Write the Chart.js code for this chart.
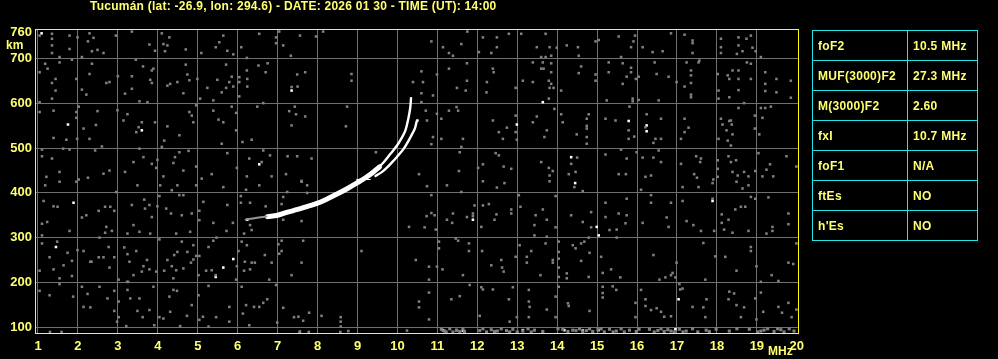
<!DOCTYPE html>
<html>
<head>
<meta charset="utf-8">
<script src="https://cdn.jsdelivr.net/npm/chart.js@4.4.0/dist/chart.umd.min.js"></script>
<style>
  body { margin: 0; background: #000; }
  #marco { position: relative; width: 998px; height: 359px; background: #000; overflow: hidden; }
  #ionograma { position: absolute; left: 0; top: 0; }
  .amarillo { position: absolute; color: #ffff70; font: bold 12px "Liberation Sans", Arial, sans-serif; white-space: nowrap; }
  #titulo { left: 90px; top: 0px; line-height: 13px; letter-spacing: 0.25px; }
  #km { left: 6px; top: 38px; font-size: 12px; }
  #mhz { left: 768px; top: 344px; font-size: 12px; }
  #tabla { position: absolute; left: 812px; top: 30px; border-collapse: collapse; }
  #tabla td { border: 1px solid #1ee6e6; height: 29px; padding: 0 0 0 5px; color: #ffff70;
              font: bold 12px "Liberation Sans", Arial, sans-serif; letter-spacing: 0.3px; white-space: nowrap; }
  #tabla td.par { width: 89px; }
  #tabla td.val { width: 64px; }
</style>
</head>
<body>
<div id="marco">
  <canvas id="ionograma" width="998" height="359"></canvas>
  <div id="titulo" class="amarillo">Tucumán (lat: -26.9, lon: 294.6) - DATE: 2026 01 30 - TIME (UT): 14:00</div>
  <div id="km" class="amarillo">km</div>
  <div id="mhz" class="amarillo">MHz</div>
  <table id="tabla"></table>
</div>
<script>
// ejes
const ticksFrecuencia = [1,2,3,4,5,6,7,8,9,10,11,12,13,14,15,16,17,18,19,20];
const ticksAltura = [100,200,300,400,500,600,700,760];

// parametros de la tabla
const parametros = ["foF2", "MUF(3000)F2", "M(3000)F2", "fxI", "foF1", "ftEs", "h'Es"];
const valores = ["10.5 MHz", "27.3 MHz", "2.60", "10.7 MHz", "N/A", "NO", "NO"];

// traza F2 [MHz, km]
const trazaCola = [[6.2,340],[6.45,344],[6.72,347]];
const trazaPrincipal = [[6.75,347],[7.0,350],[7.25,357],[7.5,363],[7.75,370],[8.0,377],[8.25,387],[8.5,398],[8.75,410],[9.0,423],[9.2,434],[9.4,447],[9.55,458]];
const trazaOrdinaria = [[9.35,442],[9.5,455],[9.65,468],[9.82,487],[9.99,506],[10.1,522],[10.2,540],[10.27,565],[10.32,590],[10.34,612]];
const trazaExtraordinaria = [[9.45,438],[9.6,446],[9.73,456],[9.88,470],[9.98,480],[10.15,498],[10.28,517],[10.37,532],[10.44,545],[10.48,560]];
const trazaCorta = [[8.98,430],[9.32,430]];

// ruido gris [MHz, km]
const ruido = [
  [1.04,752],[1.35,756],[1.35,745],[1.35,730],[1.35,713],[1.54,704],[1.79,752],[1.79,722],[1.99,748],[2.10,704],[2.29,757],[2.39,747],[2.25,739],[2.35,717],[2.49,720],[2.64,713],[2.95,752],[3.35,761],[3.79,732],[3.93,718],[4.10,757],[4.14,733],[4.29,748],[4.24,730],[4.18,717],[4.70,721],[5.09,713],[5.45,726],[5.54,737],[5.64,752],[5.74,718],[5.89,710],[6.09,726],[6.23,702],[6.54,756],[6.96,748],[6.96,735],[7.04,761],[7.14,730],[7.33,707],[7.56,752],[7.96,750],[8.14,761],
  [1.18,689],[1.24,678],[1.54,692],[1.44,655],[1.04,670],[1.35,646],[1.44,629],[1.35,611],[1.04,603],[1.85,698],[1.96,655],[2.10,631],[2.21,620],[2.29,666],[2.35,689],[2.71,646],[2.79,648],[3.00,661],[3.18,622],[3.35,661],[3.35,633],[3.45,698],[3.63,683],[3.85,674],[3.89,678],[3.81,653],[3.85,646],[3.54,605],[3.74,603],[4.24,640],[4.31,644],[4.49,648],[4.64,623],[4.70,687],[4.74,665],[4.79,652],[4.99,655],[5.06,611],[5.24,635],[5.39,607],[5.49,653],[5.60,625],[5.71,687],[5.71,635],[5.79,648],[5.85,660],[5.89,638],[6.04,659],[6.04,648],[6.23,674],[6.24,655],[6.24,638],[6.04,616],[6.52,685],[6.75,690],[6.70,670],[7.35,637],[7.50,638],[7.49,665],[7.69,670],[8.85,666],[8.85,651],[10.39,648],
  [1.04,581],[1.39,584],[1.96,581],[1.96,568],[2.02,593],[2.49,583],[2.99,585],[3.14,562],[3.24,576],[1.39,523],[1.71,519],[1.98,521],[2.14,544],[2.29,521],[2.45,552],[3.60,558],[3.52,547],[3.46,536],[3.93,558],[4.24,549],[4.54,529],[4.16,517],[4.79,581],[4.85,573],[4.89,558],[4.96,596],[5.39,584],[5.52,564],[5.64,558],[5.85,593],[5.96,579],[5.96,540],[5.60,510],[6.12,514],[6.35,519],[6.49,593],[6.64,601],[7.29,583],[7.43,593],[7.46,576],[7.69,571],[7.35,551],[8.71,549],[8.74,593],
  [1.10,497],[1.10,482],[1.35,477],[1.54,447],[1.21,436],[1.63,499],[1.79,497],[2.02,430],[2.25,434],[2.43,495],[2.60,504],[2.64,443],[2.79,450],[3.18,447],[3.39,469],[3.54,499],[3.64,480],[3.85,465],[3.96,456],[3.99,474],[4.10,503],[4.14,437],[4.39,467],[4.43,480],[4.54,491],[4.64,450],[4.77,494],[4.96,459],[5.10,432],[5.35,442],[5.74,489],[5.98,456],[6.23,437],[6.29,477],[6.60,469],[6.64,495],[6.81,484],[6.85,437],[7.21,442],[7.25,482],[7.49,482],[7.85,477],[7.60,427],[9.46,491],
  [10.85,739],[11.14,726],[11.29,713],[11.39,707],[11.60,733],[11.75,761],[12.04,715],[12.14,748],[12.35,713],[12.49,748],[12.49,726],[12.79,756],[13.10,756],[13.49,726],[13.60,704],[13.71,704],[13.71,756],[13.81,726],[13.85,707],[13.99,725],[14.24,730],[14.52,726],[14.54,707],[14.96,739],[15.04,742],[15.54,750],[15.60,704],[15.85,726],[15.91,739],[15.95,752],[16.14,726],[16.39,715],[16.64,717],[16.85,757],[17.19,754],[17.39,741],[17.39,735],[17.39,713],[17.56,696],[18.10,745],[18.10,726],[18.10,713],[18.54,748],[18.54,730],[18.64,717],[18.74,745],[18.85,752],[18.89,725],[18.97,717],[19.10,704],[18.50,711],
  [10.60,672],[10.64,648],[10.60,623],[10.89,618],[10.99,665],[10.60,603],[11.29,678],[11.49,635],[11.71,629],[11.74,690],[11.74,651],[12.23,625],[12.24,648],[12.39,678],[12.41,670],[12.96,635],[13.14,651],[13.39,648],[13.39,692],[13.60,678],[13.66,678],[13.64,692],[13.85,690],[13.85,670],[13.79,651],[13.85,644],[13.81,635],[13.91,635],[13.79,611],[14.10,629],[14.60,683],[14.54,668],[14.96,665],[14.96,651],[15.29,692],[15.29,670],[15.64,690],[15.64,644],[15.74,660],[15.85,680],[15.85,670],[15.97,655],[16.04,660],[15.89,611],[15.89,605],[16.04,608],[15.24,607],[16.44,692],[16.49,666],[16.54,607],[16.79,660],[16.99,648],[17.19,638],[17.24,692],[17.35,674],[17.35,663],[17.35,646],[17.35,620],[17.35,614],[17.54,692],[18.02,666],[18.04,629],[18.04,611],[18.27,663],[18.31,655],[18.31,614],[18.39,674],[18.54,674],[18.54,655],[18.54,630],[18.75,692],[18.85,689],[18.85,655],[19.21,670],[19.21,644],[19.21,628],[19.49,655],[19.49,625],[19.85,651],[19.85,613],
  [10.71,584],[10.74,562],[10.99,577],[11.10,566],[10.89,525],[11.10,521],[10.85,509],[11.29,584],[11.48,592],[11.52,584],[11.64,521],[11.60,503],[12.39,562],[12.54,536],[12.64,521],[12.74,546],[12.96,573],[12.96,536],[12.99,519],[13.39,558],[13.49,571],[13.74,540],[13.68,525],[13.93,588],[14.10,576],[14.14,558],[14.49,531],[14.74,566],[14.74,550],[14.74,544],[14.74,525],[14.74,510],[14.79,576],[15.21,566],[15.46,562],[15.79,540],[15.79,521],[15.93,526],[15.81,593],[16.24,576],[16.21,547],[16.41,512],[16.46,521],[16.60,521],[16.60,566],[17.10,521],[17.19,566],[17.19,536],[17.29,546],[18.10,566],[18.14,553],[18.24,540],[18.31,561],[18.35,562],[18.37,553],[18.39,531],[18.27,517],[18.35,506],[18.04,521],[18.54,590],[18.68,601],[18.95,573],[18.95,544],[19.06,531],[19.10,590],[19.21,590],[19.14,568],[19.35,593],
  [10.54,442],[11.54,449],[11.56,491],[12.02,456],[12.14,464],[12.46,489],[12.54,484],[12.66,459],[12.85,454],[13.60,469],[13.79,456],[13.81,439],[13.89,449],[14.35,465],[14.50,479],[14.29,442],[14.46,447],[15.21,486],[15.54,442],[15.60,497],[15.74,477],[15.72,442],[15.99,491],[16.14,479],[16.21,436],[16.35,439],[16.41,479],[16.54,495],[16.60,469],[17.10,465],[17.48,482],[17.58,469],[17.60,477],[17.43,442],[17.50,434],[17.91,430],[18.02,473],[18.02,454],[18.02,436],[18.29,482],[18.35,469],[18.48,473],[18.39,447],[18.52,439],[18.68,447],[18.79,437],[18.96,449],[19.04,489],[19.14,437],[19.24,452],[19.33,464],[19.41,437],[19.74,482],[19.99,459],
  [1.18,417],[1.54,425],[1.96,425],[2.96,402],[3.49,417],[4.06,417],[4.35,406],[4.49,417],[4.96,417],[5.64,413],[6.21,407],[6.54,417],[7.24,402],[7.60,425],[7.74,417],[7.74,400],
  [1.14,382],[1.39,370],[1.49,369],[1.23,335],[1.10,331],[1.10,305],[1.79,315],[2.10,345],[2.21,350],[2.52,360],[2.68,369],[2.81,369],[2.91,360],[2.71,324],[2.68,311],[2.85,315],[2.54,300],[3.24,309],[3.39,328],[3.35,373],[3.54,313],[3.66,385],[3.68,365],[3.79,373],[3.81,309],[3.85,346],[3.99,370],[4.04,393],[4.21,365],[4.33,354],[4.46,309],[4.60,350],[4.54,395],[4.64,395],[4.85,354],[4.81,313],[5.04,360],[5.04,339],[5.14,380],[5.39,333],[5.74,373],[5.72,315],[5.88,333],[6.08,393],[6.08,378],[6.16,309],[6.31,378],[6.31,328],[6.35,317],[6.70,370],[7.10,375],[7.14,391],[7.14,340],[7.60,337],
  [1.10,287],[1.48,291],[1.29,256],[1.64,238],[1.74,266],[1.85,248],[1.85,214],[1.54,209],[1.39,229],[1.04,226],[1.99,272],[2.14,270],[2.31,246],[2.34,246],[2.52,256],[2.64,256],[2.77,279],[2.91,256],[2.79,233],[3.02,206],[3.16,278],[3.24,263],[3.23,201],[3.26,201],[3.29,246],[3.39,216],[3.46,270],[3.60,224],[3.64,236],[3.73,250],[3.79,229],[3.96,224],[4.04,296],[4.16,226],[4.24,250],[4.35,236],[4.39,209],[4.41,261],[4.46,227],[4.49,268],[4.60,291],[4.64,231],[4.74,268],[4.83,244],[4.89,251],[4.96,259],[5.04,259],[5.02,216],[4.89,283],[5.21,226],[5.27,279],[5.39,293],[5.35,227],[5.47,300],[5.45,216],[5.96,206],[5.98,236],[6.02,270],[6.10,291],[6.16,226],[6.18,246],[6.23,283],[6.35,244],[6.43,244],[6.31,229],[6.68,261],[6.79,206],[6.85,244],[7.02,285],[7.04,264],[7.10,270],[7.10,293],[7.35,216],[7.60,244],[7.64,293],[9.10,270],[10.29,324],[10.46,250],
  [1.04,181],[1.29,171],[1.54,196],[1.88,168],[2.10,190],[2.24,174],[2.14,145],[2.31,144],[2.54,190],[2.74,164],[2.91,181],[3.02,157],[2.91,136],[3.02,122],[2.98,112],[3.21,102],[3.24,183],[3.31,164],[3.54,164],[3.49,136],[3.62,122],[3.79,138],[3.89,190],[3.91,104],[4.04,122],[4.14,119],[4.29,168],[4.31,134],[4.39,183],[4.48,181],[4.56,102],[4.73,125],[4.85,149],[5.02,171],[5.04,116],[5.13,123],[5.27,192],[5.27,101],[5.46,122],[5.79,145],[5.79,112],[6.10,190],[6.13,130],[6.21,149],[6.29,104],[6.41,145],[6.54,145],[6.64,154],[6.74,162],[6.96,194],[6.99,110],[7.14,143],[7.41,122],[7.52,123],[7.64,114],[7.79,132],[8.10,125],[8.58,122],[8.58,112],[8.58,101],
  [10.74,415],[11.24,417],[11.60,402],[12.14,426],[12.49,412],[12.68,422],[13.81,426],[14.43,413],[14.64,404],[16.10,407],[17.14,413],[17.54,413],[17.89,422],[18.49,425],[18.64,410],[18.79,417],
  [10.85,395],[10.85,355],[10.73,348],[10.93,350],[10.68,323],[10.96,318],[11.24,340],[11.39,354],[11.37,333],[11.74,346],[11.89,354],[11.89,348],[11.93,372],[12.14,372],[12.29,375],[12.10,324],[12.43,340],[12.48,352],[12.85,363],[12.85,354],[13.04,395],[13.08,369],[13.46,350],[13.43,328],[13.64,363],[13.74,340],[13.96,393],[13.96,323],[13.43,305],[13.74,302],[14.35,350],[14.64,335],[14.85,357],[14.85,323],[15.21,378],[15.21,346],[15.31,317],[15.49,318],[15.49,300],[15.54,354],[15.71,332],[15.74,350],[15.74,387],[16.14,333],[16.35,395],[16.35,378],[16.74,345],[16.79,324],[16.85,378],[17.14,382],[17.24,337],[17.41,328],[17.60,315],[17.89,387],[17.93,315],[18.12,352],[18.12,333],[18.18,318],[18.29,340],[18.39,311],[18.46,363],[18.60,369],[18.71,369],[18.79,315],[18.85,391],[18.96,387],[19.29,390],[19.24,309],[19.39,324],[19.39,315],[19.79,354],[19.79,330],
  [11.04,291],[11.04,276],[10.79,235],[11.13,229],[10.79,206],[10.99,235],[11.46,298],[11.52,293],[11.79,287],[11.79,270],[11.64,216],[12.12,270],[12.35,238],[12.60,250],[12.62,233],[12.66,224],[12.96,257],[13.06,283],[13.24,257],[13.24,244],[13.35,270],[13.58,216],[13.71,287],[13.89,250],[13.89,244],[14.04,291],[14.04,268],[14.04,253],[14.04,233],[14.04,212],[14.24,220],[14.24,209],[14.39,283],[14.46,276],[14.60,287],[14.60,248],[14.68,291],[14.79,300],[14.81,266],[14.79,212],[15.10,257],[15.14,221],[15.35,229],[15.58,211],[16.41,261],[16.56,206],[16.71,211],[16.85,216],[16.89,221],[16.96,211],[16.99,244],[17.66,288],[17.71,206],[17.96,258],[18.21,257],[18.49,226],[18.85,279],[18.85,270],[18.99,236],[19.10,201],[19.37,216],[19.54,203],[19.79,244],[19.91,241],[19.99,287],
  [10.54,157],[10.54,144],[10.79,177],[10.79,117],[11.35,162],[11.56,169],[11.81,194],[12.10,189],[12.14,184],[12.39,184],[12.06,125],[12.79,162],[12.89,189],[12.99,122],[12.81,112],[13.29,183],[13.29,157],[13.29,122],[13.31,145],[13.74,139],[13.96,168],[13.96,122],[14.04,190],[14.27,153],[14.29,147],[14.81,136],[15.14,190],[15.14,176],[15.14,166],[15.39,191],[15.48,183],[15.96,154],[15.96,122],[16.10,183],[16.21,162],[16.21,147],[16.35,138],[16.49,142],[16.60,134],[16.68,123],[16.85,124],[17.06,196],[17.08,184],[17.14,186],[17.39,145],[17.66,144],[17.74,162],[17.71,122],[18.31,179],[18.29,162],[18.43,175],[18.49,149],[18.60,122],[18.68,144],[18.96,164],[18.99,117],[19.10,177],[19.16,134],[19.54,145],[19.63,132],[19.79,154],[19.87,122],[19.99,139],
  [1.30,89],[1.59,89],[7.55,89],[7.78,89],[8.57,89],[8.77,91],[7.56,90],[10.24,92]
];

// banda de interferencia cerca de 90 km [MHz, km]
const banda = [
  [11.10,95],[11.18,91],[11.31,96],[11.39,89],[11.48,93],[11.64,96],[11.68,90],[12.06,92],[12.14,96],[12.23,89],[12.35,94],[12.43,90],
  [12.60,96],[12.73,92],[12.81,89],[12.89,95],[13.14,91],[13.27,96],[13.35,89],[13.43,93],[13.64,90],[14.14,95],[14.27,90],[14.39,93],
  [14.56,96],[14.64,89],[14.73,92],[14.81,96],[14.89,90],[15.02,94],[15.18,89],[15.31,95],[15.48,91],[15.60,96],[15.68,89],[15.81,93],
  [15.98,90],[16.31,95],[16.43,89],[16.52,92],[16.60,96],[16.68,90],[16.77,94],[16.93,89],[17.06,95],[17.23,91],[17.39,96],[17.52,89],
  [17.73,93],[17.81,90],[17.98,95],[18.31,91],[18.81,95],[19.02,89],[19.18,93],[19.27,96],[19.43,90],[19.60,94],[19.68,89],[19.81,96],[19.93,91],
  [11.22,89],[11.56,90],[12.50,91],[13.00,89],[14.02,96],[14.47,92],[15.10,96],[15.40,89],[16.05,95],[16.85,91],[17.15,89],[18.50,96],[19.10,91],[19.52,96]
];

// puntos blancos sueltos [MHz, km]
const puntosBlancos = [
  [1.09,757],[7.35,629],[1.75,553],[3.60,540],[6.54,464],[13.64,603],[10.50,562],[12.99,553],[15.79,561],[16.24,551],[16.24,538],
  [14.35,480],[1.89,378],[1.45,279],[5.45,212],[5.64,233],[5.89,252],[6.24,340],[14.45,422],[11.89,340],[14.99,324],[15.04,305],
  [17.89,382],[17.04,162],[11.14,93],[11.48,93],[11.64,92],[13.14,93],[14.18,93],[14.64,92],[15.04,93],[16.96,95]
];

const AMARILLO = '#ffff00';
const TEXTO = '#ffff70';
const GRIS_REJILLA = 'rgb(112,112,112)';
const GRIS_RUIDO = 'rgb(128,128,128)';

const aPuntos = arr => arr.map(p => ({x: p[0], y: p[1]}));

// tabla de parametros
const tabla = document.getElementById('tabla');
for (let i = 0; i < parametros.length; i++) {
    let fila = tabla.insertRow();
    let c1 = fila.insertCell(); c1.className = 'par'; c1.textContent = parametros[i];
    let c2 = fila.insertCell(); c2.className = 'val'; c2.textContent = valores[i];
}

// marco amarillo alrededor del area
const marcoPlugin = {
    id: 'marcoAmarillo',
    afterDraw(chart) {
        const a = chart.chartArea;
        const ctx = chart.ctx;
        ctx.save();
        ctx.strokeStyle = AMARILLO;
        ctx.lineWidth = 1;
        ctx.strokeRect(Math.round(a.left) - 0.5, Math.round(a.top) - 0.5, Math.round(a.right - a.left) + 1, Math.round(a.bottom - a.top) + 1);
        ctx.restore();
    }
};
const fondoPlugin = {
    id: 'fondoNegro',
    beforeDraw(chart) {
        const ctx = chart.ctx;
        ctx.save();
        ctx.fillStyle = '#000';
        ctx.fillRect(0, 0, chart.width, chart.height);
        ctx.restore();
    }
};

function linea(datos, color, ancho) {
    return {
        type: 'line', data: aPuntos(datos), borderColor: color, borderWidth: ancho,
        pointRadius: 0, tension: 0.35, fill: false, borderCapStyle: 'round'
    };
}
function nube(datos, color, radio) {
    return {
        type: 'scatter', data: aPuntos(datos), backgroundColor: color, borderWidth: 0,
        pointStyle: 'rect', pointRadius: radio, pointHoverRadius: radio
    };
}

const ctx = document.getElementById('ionograma');
new Chart(ctx, {
    type: 'scatter',
    data: {
        datasets: [
            nube(ruido, GRIS_RUIDO, 1.8),
            nube(banda, GRIS_RUIDO, 2.2),
            linea(trazaCola, 'rgb(150,150,150)', 2),
            linea(trazaPrincipal, '#ffffff', 5),
            linea(trazaOrdinaria, '#ffffff', 2.4),
            linea(trazaExtraordinaria, '#ffffff', 2.4),
            linea(trazaCorta, '#ffffff', 1),
            nube(puntosBlancos, '#ffffff', 1.8)
        ]
    },
    options: {
        responsive: false,
        animation: false,
        events: [],
        layout: { padding: { top: 30, right: 200, left: 0, bottom: 0 } },
        plugins: { legend: { display: false }, tooltip: { enabled: false }, title: { display: false } },
        scales: {
            x: {
                type: 'linear', min: 0.95, max: 20.03,
                afterBuildTicks: s => { s.ticks = ticksFrecuencia.map(v => ({value: v})); },
                afterFit: s => { s.height = 26; },
                grid: { color: c => (c.tick && c.tick.value === 20) ? 'rgba(0,0,0,0)' : GRIS_REJILLA, lineWidth: 1, drawTicks: false },
                border: { display: false },
                ticks: { color: TEXTO, padding: 6, maxRotation: 0, autoSkip: false,
                         font: { family: '"Liberation Sans", Arial, sans-serif', size: 13, weight: 'bold' } }
            },
            y: {
                type: 'linear', min: 86.6, max: 764.5,
                afterBuildTicks: s => { s.ticks = ticksAltura.map(v => ({value: v})); },
                afterFit: s => { s.width = 36; },
                grid: { color: c => (c.tick && c.tick.value === 760) ? 'rgba(0,0,0,0)' : GRIS_REJILLA, lineWidth: 1, drawTicks: false },
                border: { display: false },
                ticks: { color: TEXTO, padding: 4, autoSkip: false,
                         font: { family: '"Liberation Sans", Arial, sans-serif', size: 13, weight: 'bold' } }
            }
        }
    },
    plugins: [fondoPlugin, marcoPlugin]
});
</script>
</body>
</html>
